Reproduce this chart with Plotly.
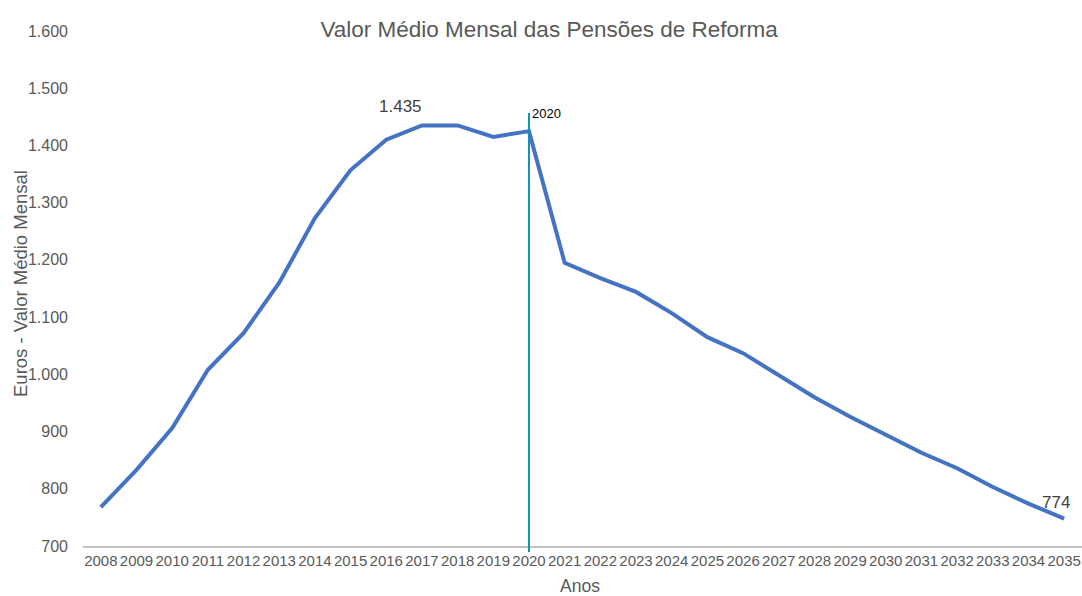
import plotly.graph_objects as go

years = list(range(2008, 2036))
values = [768, 833, 906, 1008, 1072, 1160, 1273, 1357, 1410, 1435, 1435, 1415, 1425,
          1195, 1168, 1144, 1107, 1065, 1037, 999, 960, 926, 894, 863, 836, 803, 774, 748]
y_ticks = [700, 800, 900, 1000, 1100, 1200, 1300, 1400, 1500, 1600]
marker_year = 2020

W, H = 1082, 596
L, R, T, B = 83, 0, 31, 50
pw, ph = W - L - R, H - T - B

def px_x(p):
    return (p - L) / pw

def px_y(p):
    return (H - B - p) / ph

font = "Liberation Sans, Arial, sans-serif"
grey = "#595959"

fig = go.Figure()
fig.add_trace(go.Scatter(x=years, y=values, mode="lines",
                         line=dict(color="#4472C4", width=4), hoverinfo="x+y",
                         showlegend=False))

fig.add_shape(type="line", xref="x", yref="paper", x0=marker_year, x1=marker_year,
              y0=px_y(552), y1=px_y(113), line=dict(color="#1590B5", width=2))

annotations = [
    dict(text="Euros - Valor Médio Mensal", xref="paper", yref="paper",
         x=px_x(20), y=px_y(284), textangle=-90, showarrow=False,
         font=dict(family=font, size=18.5, color=grey), xanchor="center", yanchor="middle"),
    dict(text="Anos", xref="paper", yref="paper", x=px_x(580), y=px_y(585.5),
         showarrow=False, font=dict(family=font, size=17.5, color=grey),
         xanchor="center", yanchor="middle", borderpad=0),
    dict(text="1.435", x=2017, y=values[years.index(2017)], xref="x", yref="y",
         showarrow=False, xshift=-21, yshift=19,
         font=dict(family=font, size=17, color="#404040")),
    dict(text="774", x=2034, y=values[years.index(2034)], xref="x", yref="y",
         showarrow=False, xshift=28, yshift=1,
         font=dict(family=font, size=17, color="#404040")),
    dict(text=str(marker_year), x=marker_year, xref="x", yref="paper", y=px_y(113),
         showarrow=False, xanchor="left", yanchor="middle", xshift=1,
         font=dict(family=font, size=13, color="#000000")),
]

fig.update_layout(
    width=W, height=H,
    margin=dict(l=L, r=R, t=T, b=B, pad=0),
    paper_bgcolor="white", plot_bgcolor="white",
    separators=",.",
    title=dict(text="Valor Médio Mensal das Pensões de Reforma", x=0.5075, xanchor="center",
               y=1 - 29 / H, yanchor="middle", yref="container",
               font=dict(family=font, size=22.5, color=grey)),
    xaxis=dict(range=[2007.5, 2035.5], tickmode="array", tickvals=years,
               ticktext=[str(y) for y in years], showgrid=False, zeroline=False,
               showline=True, linecolor="#BFBFBF", linewidth=1.5, ticks="",
               tickfont=dict(family=font, size=15, color=grey)),
    yaxis=dict(range=[700, 1600], tickmode="array", tickvals=y_ticks, tickformat=",d",
               showgrid=False, zeroline=False, showline=False, ticks="",
               ticklabelstandoff=14,
               tickfont=dict(family=font, size=16, color=grey)),
    annotations=annotations,
)

fig.write_html(
    "out.html",
    config={"displayModeBar": False},
    post_script="document.body.style.margin='0';document.body.style.padding='0';"
                "document.body.style.overflow='hidden';",
)
